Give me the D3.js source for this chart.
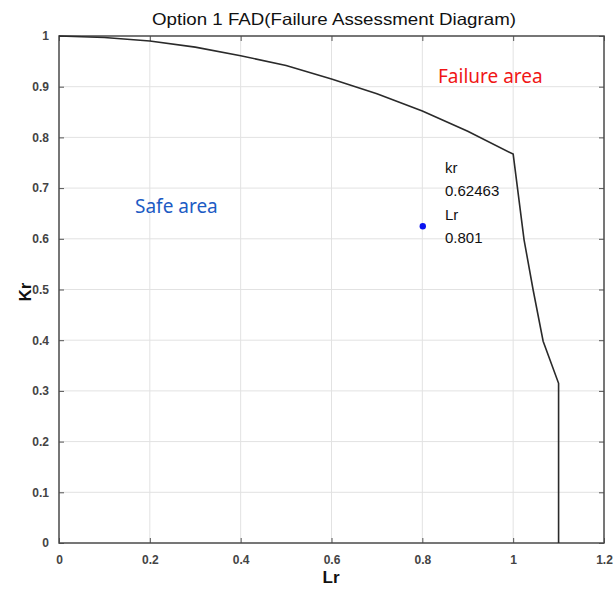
<!DOCTYPE html>
<html>
<head>
<meta charset="utf-8">
<script src="https://cdn.jsdelivr.net/npm/d3@7"></script>
<style>
  html, body { margin: 0; padding: 0; background: #fff; }
  svg { display: block; }
</style>
</head>
<body>
<svg id="chart" width="616" height="590"></svg>
<script>
// ---- data ----
const fadLr = [0, 0.1, 0.2, 0.3, 0.4, 0.5, 0.6, 0.7, 0.8, 0.9, 1.0, 1.024, 1.044, 1.066, 1.1, 1.1];
const fadKr = [1, 0.997, 0.99, 0.978, 0.961, 0.942, 0.915, 0.886, 0.852, 0.812, 0.767, 0.598, 0.499, 0.398, 0.315, 0];
const pointLr = [0.801];
const pointKr = [0.62463];
const xTicks = [0, 0.2, 0.4, 0.6, 0.8, 1, 1.2];
const yTicks = [0, 0.1, 0.2, 0.3, 0.4, 0.5, 0.6, 0.7, 0.8, 0.9, 1];
const titleText = "Option 1 FAD(Failure Assessment Diagram)";
const xLabel = "Lr";
const yLabel = "Kr";
const safeLabel = "Safe area";
const failLabel = "Failure area";
const tipLines = ["kr", "0.62463", "Lr", "0.801"];

// ---- layout ----
const svg = d3.select("#chart");
const L = 59, R = 604, T = 36, B = 543;
const x = d3.scaleLinear().domain([0, 1.2]).range([L, R]);
const y = d3.scaleLinear().domain([0, 1]).range([B, T]);

// grid
const g = svg.append("g");
g.selectAll("line.gx").data(xTicks.slice(1, -1)).join("line")
  .attr("x1", d => x(d)).attr("x2", d => x(d)).attr("y1", T).attr("y2", B)
  .attr("stroke", "#e2e2e2").attr("stroke-width", 1);
g.selectAll("line.gy").data(yTicks.slice(1, -1)).join("line")
  .attr("x1", L).attr("x2", R).attr("y1", d => y(d)).attr("y2", d => y(d))
  .attr("stroke", "#e2e2e2").attr("stroke-width", 1);

// axes with inward ticks
const axFont = "Liberation Sans, Arial, sans-serif";
const xAxis = svg.append("g").attr("transform", `translate(0,${B})`)
  .call(d3.axisBottom(x).tickValues(xTicks).tickSizeInner(-5).tickSizeOuter(0).tickPadding(12)
    .tickFormat(d => d3.format("~g")(d)));
const xAxisTop = svg.append("g").attr("transform", `translate(0,${T})`)
  .call(d3.axisTop(x).tickValues(xTicks).tickSizeInner(-5).tickSizeOuter(0).tickFormat(""));
const yAxis = svg.append("g").attr("transform", `translate(${L},0)`)
  .call(d3.axisLeft(y).tickValues(yTicks).tickSizeInner(-5).tickSizeOuter(0).tickPadding(10)
    .tickFormat(d => d3.format("~g")(d)));
const yAxisRight = svg.append("g").attr("transform", `translate(${R},0)`)
  .call(d3.axisRight(y).tickValues(yTicks).tickSizeInner(-5).tickSizeOuter(0).tickFormat(""));
[xAxis, xAxisTop, yAxis, yAxisRight].forEach(a => {
  a.select(".domain").remove();
  a.selectAll(".tick line").attr("stroke", "#555").attr("stroke-width", 1);
  a.selectAll(".tick text").attr("font-family", axFont).attr("font-size", 12)
    .attr("fill", "#444").attr("font-weight", "bold");
});

// frame
svg.append("rect").attr("x", L).attr("y", T).attr("width", R - L).attr("height", B - T)
  .attr("fill", "none").attr("stroke", "#4a4a4a").attr("stroke-width", 1.5);

// FAD curve
const line = d3.line().x(d => x(d[0])).y(d => y(d[1]));
svg.append("path").datum(fadLr.map((v, i) => [v, fadKr[i]]))
  .attr("d", line).attr("fill", "none").attr("stroke", "#2a2a2a").attr("stroke-width", 1.6);

// assessment point
svg.selectAll("circle.pt").data(pointLr.map((v, i) => [v, pointKr[i]])).join("circle")
  .attr("cx", d => x(d[0])).attr("cy", d => y(d[1])).attr("r", 3.2).attr("fill", "#0a14f0");

// data tip text
svg.append("g").selectAll("text").data(tipLines).join("text")
  .attr("x", 445).attr("y", (d, i) => 173 + i * 23.3)
  .attr("font-family", axFont).attr("font-size", 15).attr("fill", "#111").text(d => d);

// region labels
svg.append("text").attr("x", 135).attr("y", 213).attr("font-family", "Noto Sans, Open Sans, sans-serif")
  .attr("font-size", 19).attr("fill", "#1c5bc4").text(safeLabel);
svg.append("text").attr("x", 438).attr("y", 83).attr("font-family", "Noto Sans, Open Sans, sans-serif")
  .attr("font-size", 19).attr("fill", "#f01616").text(failLabel);

// title and axis labels
svg.append("text").attr("x", 334).attr("y", 25).attr("text-anchor", "middle")
  .attr("font-family", axFont).attr("font-size", 16.5).attr("fill", "#111")
  .attr("textLength", 364).attr("lengthAdjust", "spacingAndGlyphs").text(titleText);
svg.append("text").attr("x", 331).attr("y", 583).attr("text-anchor", "middle")
  .attr("font-family", axFont).attr("font-size", 17).attr("font-weight", "bold").attr("fill", "#111").text(xLabel);
svg.append("text").attr("transform", "translate(31,292) rotate(-90)").attr("text-anchor", "middle")
  .attr("font-family", axFont).attr("font-size", 17).attr("font-weight", "bold").attr("fill", "#111").text(yLabel);
</script>
</body>
</html>
